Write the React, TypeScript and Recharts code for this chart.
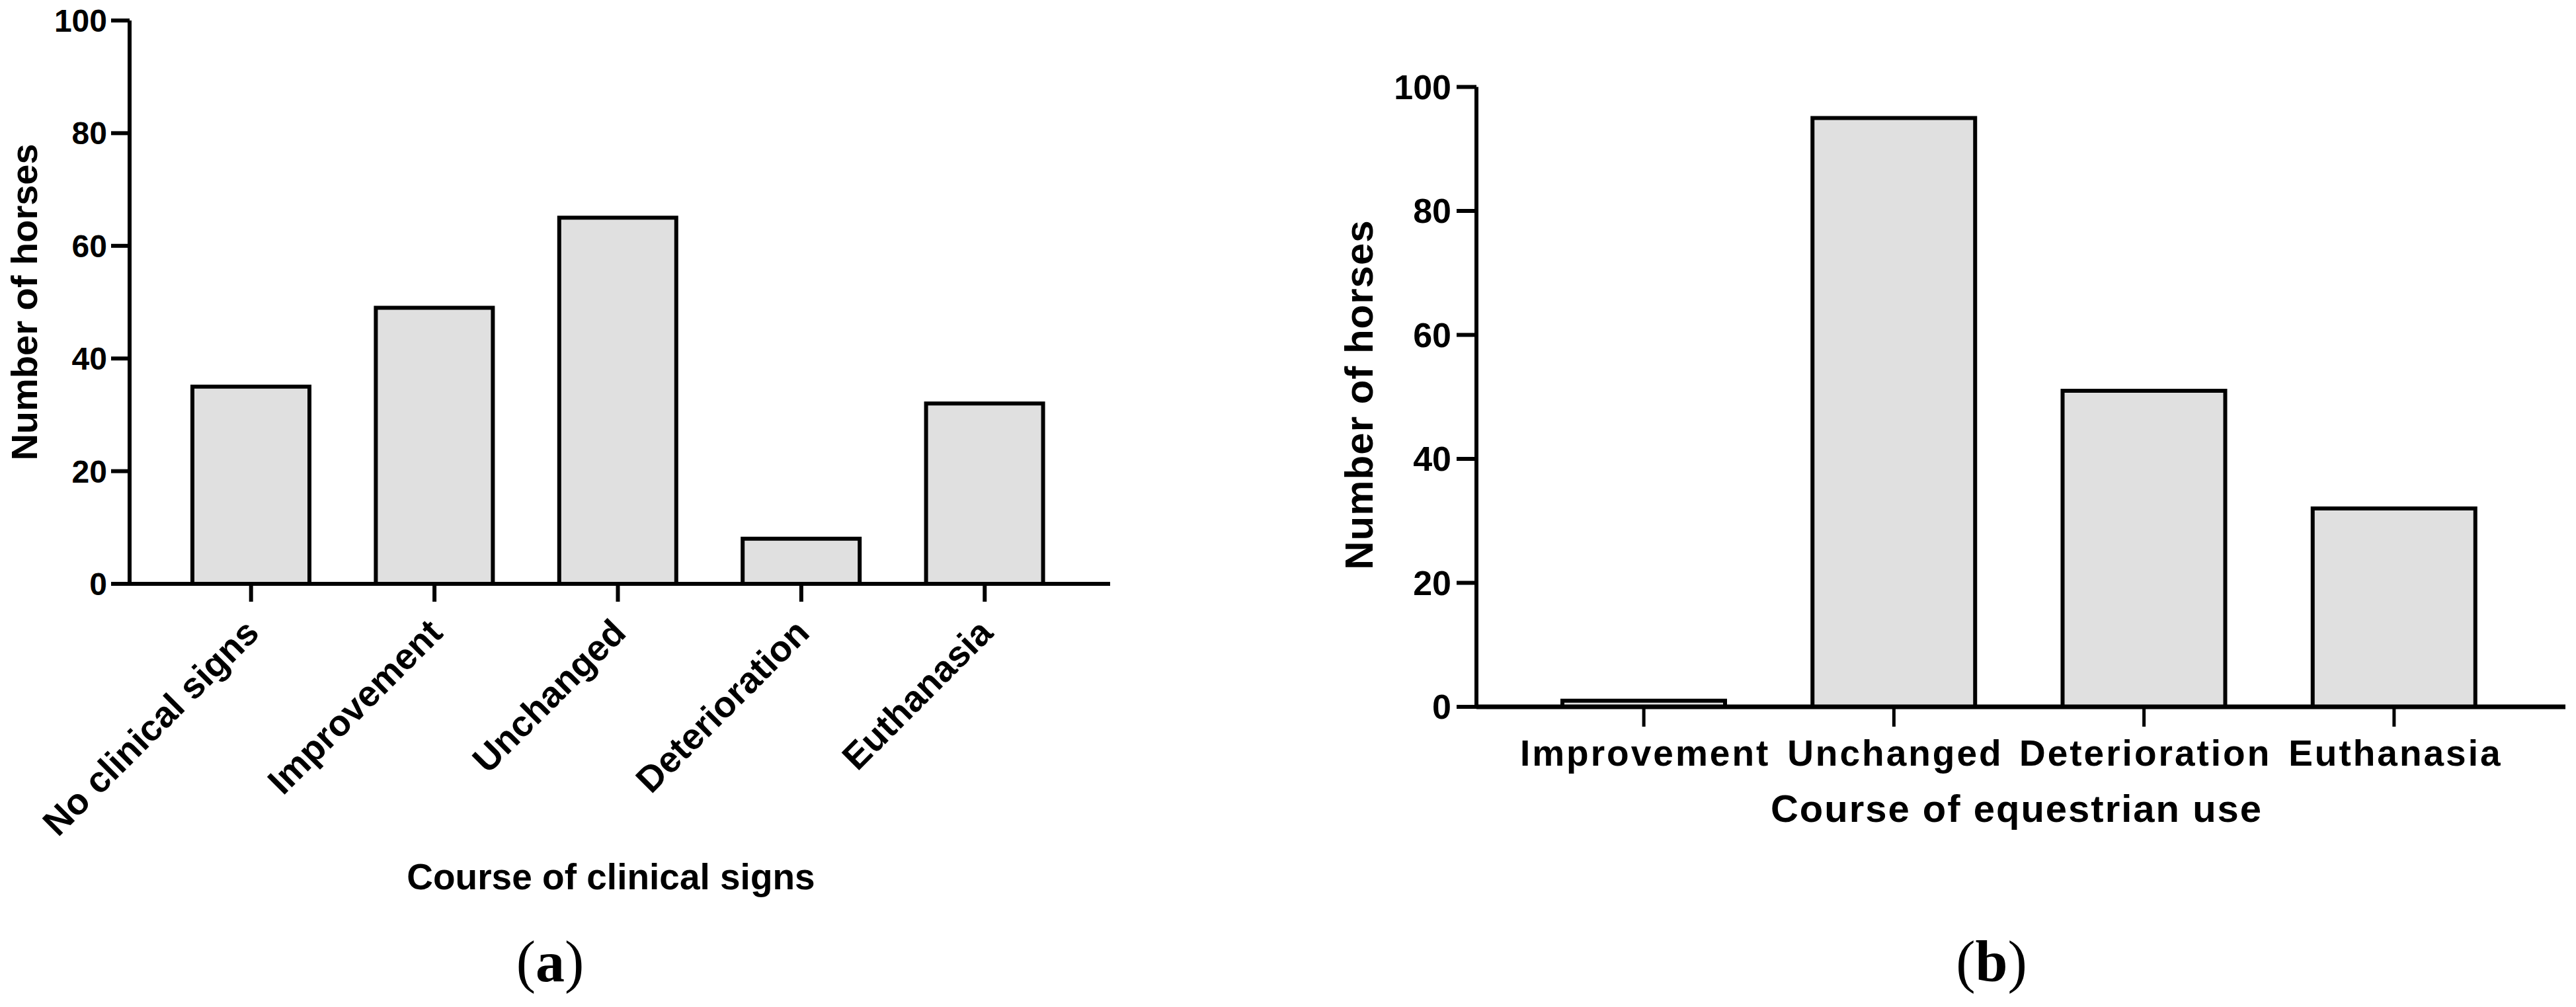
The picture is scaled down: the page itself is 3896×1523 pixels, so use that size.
import { BarChart, Bar, XAxis, YAxis } from 'recharts';

// (a) course of clinical signs
const clinicalCategories = ['No clinical signs', 'Improvement', 'Unchanged', 'Deterioration', 'Euthanasia'];
const clinicalCounts = [35, 49, 65, 8, 32];

// (b) course of equestrian use
const equestrianCategories = ['Improvement', 'Unchanged', 'Deterioration', 'Euthanasia'];
const equestrianCounts = [1, 95, 51, 32];

const yTicks = [0, 20, 40, 60, 80, 100];

const clinicalData = clinicalCategories.map((name, i) => ({ name, count: clinicalCounts[i] }));
const equestrianData = equestrianCategories.map((name, i) => ({ name, count: equestrianCounts[i] }));

const FONT = '"Liberation Sans", Arial, Helvetica, sans-serif';
const SERIF = '"Liberation Serif", "Times New Roman", serif';

// rotated labels for the left chart
function SlantTick(props: any) {
  const { x, y, payload } = props;
  const tx = x + 15;
  const ty = y + 50;
  return (
    <text
      x={tx}
      y={ty}
      transform={`rotate(-45, ${tx}, ${ty})`}
      textAnchor="end"
      fontFamily={FONT}
      fontWeight="bold"
      fontSize={55}
      fill="#000"
    >
      {payload.value}
    </text>
  );
}

function FlatTick(props: any) {
  const { x, y, payload } = props;
  return (
    <text
      x={x + 2}
      y={y + 59}
      textAnchor="middle"
      fontFamily={FONT}
      fontWeight="bold"
      fontSize={55}
      letterSpacing={3}
      fill="#000"
    >
      {payload.value}
    </text>
  );
}

export default function App() {
  return (
    <div
      style={{
        position: 'relative',
        width: 3896,
        height: 1523,
        marginLeft: -8,
        marginTop: -8,
        background: '#fff',
        overflow: 'hidden',
      }}
    >
      <div style={{ position: 'absolute', left: 0, top: 0 }}>
        <BarChart
          width={1700}
          height={1523}
          data={clinicalData}
          margin={{ top: 31, right: 21, left: 0, bottom: 0 }}
        >
          <XAxis
            dataKey="name"
            height={640}
            padding={{ left: 45, right: 51 }}
            interval={0}
            tickSize={27}
            tickMargin={0}
            axisLine={{ stroke: '#000', strokeWidth: 6 }}
            tickLine={{ stroke: '#000', strokeWidth: 6 }}
            tick={<SlantTick />}
          />
          <YAxis
            width={196}
            domain={[0, 100]}
            ticks={yTicks}
            interval={0}
            tickSize={28}
            tickMargin={6}
            axisLine={{ stroke: '#000', strokeWidth: 6 }}
            tickLine={{ stroke: '#000', strokeWidth: 6 }}
            tick={{ fill: '#000', fontSize: 48, fontWeight: 'bold', fontFamily: FONT }}
          />
          <Bar
            dataKey="count"
            fill="#e0e0e0"
            stroke="#000"
            strokeWidth={6}
            barSize={177}
            isAnimationActive={false}
          />
        </BarChart>
      </div>

      <div style={{ position: 'absolute', left: 1990, top: 0 }}>
        <BarChart
          width={1900}
          height={1523}
          data={equestrianData}
          margin={{ top: 131.5, right: 10, left: 0, bottom: 0 }}
        >
          <XAxis
            dataKey="name"
            height={454}
            padding={{ left: 64, right: 70 }}
            interval={0}
            tickSize={30}
            tickMargin={0}
            axisLine={{ stroke: '#000', strokeWidth: 7 }}
            tickLine={{ stroke: '#000', strokeWidth: 5 }}
            tick={<FlatTick />}
          />
          <YAxis
            width={243}
            domain={[0, 100]}
            ticks={yTicks}
            interval={0}
            tickSize={30}
            tickMargin={8}
            axisLine={{ stroke: '#000', strokeWidth: 6 }}
            tickLine={{ stroke: '#000', strokeWidth: 6 }}
            tick={{ fill: '#000', fontSize: 52, fontWeight: 'bold', fontFamily: FONT }}
          />
          <Bar
            dataKey="count"
            fill="#e0e0e0"
            stroke="#000"
            strokeWidth={6}
            barSize={246}
            isAnimationActive={false}
          />
        </BarChart>
      </div>

      <svg
        width={3896}
        height={1523}
        style={{ position: 'absolute', left: 0, top: 0, pointerEvents: 'none' }}
      >
        <g fontFamily={FONT} fontWeight="bold" fill="#000">
          <text transform="translate(56,457) rotate(-90)" textAnchor="middle" fontSize={56}>
            Number of horses
          </text>
          <text x={924} y={1345} textAnchor="middle" fontSize={55}>
            Course of clinical signs
          </text>
          <text transform="translate(2076,597) rotate(-90)" textAnchor="middle" fontSize={60} letterSpacing={1}>
            Number of horses
          </text>
          <text x={3050} y={1243} textAnchor="middle" fontSize={58} letterSpacing={2}>
            Course of equestrian use
          </text>
        </g>
        <g fontFamily={SERIF} fill="#000" fontSize={88}>
          <text x={832} y={1484} textAnchor="middle">
            (<tspan fontWeight="bold">a</tspan>)
          </text>
          <text x={3012} y={1484} textAnchor="middle">
            (<tspan fontWeight="bold">b</tspan>)
          </text>
        </g>
      </svg>
    </div>
  );
}
